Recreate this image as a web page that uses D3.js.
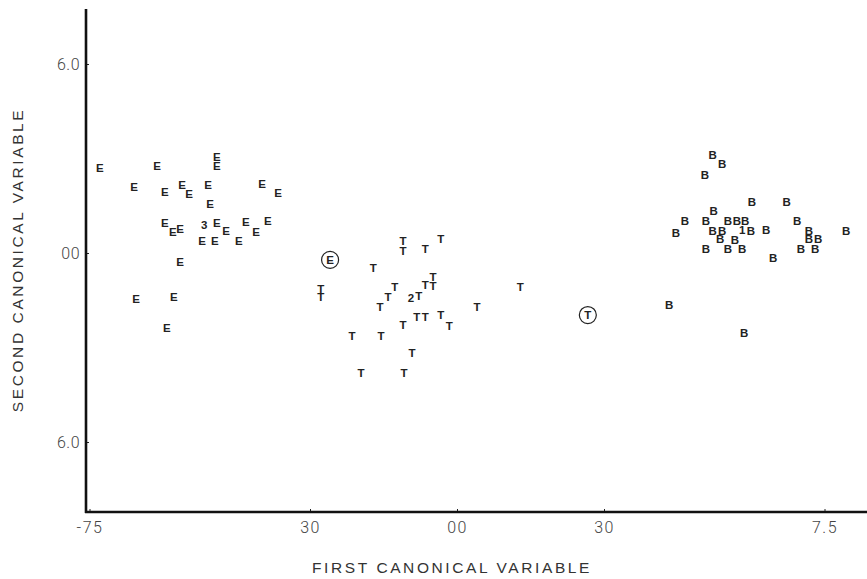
<!DOCTYPE html>
<meta charset="utf-8">
<style>
body { margin: 0; background: #fff; }
.tick text { font-family: Roboto, "Liberation Sans", sans-serif; font-weight: 300; font-size: 16px; fill: #444; letter-spacing: 1.5px; }
.mark { font-family: "Liberation Sans", Arial, sans-serif; font-size: 11.5px; font-weight: bold; fill: #222; }
.title { font-family: "Liberation Sans", Arial, sans-serif; font-size: 15.5px; fill: #333; letter-spacing: 2.6px; }
</style>
<svg></svg>
<script src="https://cdn.jsdelivr.net/npm/d3@7"></script>
<script>

var width = 867,
    height = 579

// group E
var eX = [-7.29,-6.12,-4.90,-4.90,-6.59,-5.96,-5.61,-5.47,-5.08,-3.98,-3.65,-5.04,-5.96,-5.80,-5.65,-4.90,-4.71,-4.31,-4.10,-3.86,-5.20,-4.94,-4.45,-5.65,-6.55,-5.78,-5.92]
var eY = [2.70,2.76,3.05,2.76,2.10,1.94,2.16,1.87,2.16,2.19,1.90,1.56,0.95,0.67,0.76,0.95,0.70,0.98,0.67,1.02,0.38,0.38,0.38,-0.29,-1.46,-1.40,-2.38]

// group T
var tX = [-2.78,-2.78,-1.10,-1.10,-0.65,-0.33,-1.71,-0.49,-0.49,-0.65,-1.27,-1.41,-0.78,-1.57,1.29,0.41,-0.82,-0.65,-0.33,-0.16,-1.10,-2.14,-1.55,-0.92,-1.96,-1.08]
var tY = [-1.14,-1.40,0.38,0.06,0.13,0.44,-0.48,-0.76,-1.05,-1.02,-1.08,-1.40,-1.37,-1.71,-1.08,-1.71,-2.03,-2.03,-1.97,-2.32,-2.29,-2.63,-2.63,-3.17,-3.81,-3.81]

// group B
var bX = [5.22,5.41,5.06,6.02,6.73,5.24,4.65,5.08,5.53,5.71,5.88,6.94,4.47,5.22,5.41,6.00,6.31,7.18,7.94,5.37,5.67,7.18,7.37,5.08,5.53,5.82,7.02,7.31,6.45,4.33,5.86]
var bY = [3.11,2.83,2.48,1.62,1.62,1.33,1.02,1.02,1.02,1.02,1.02,1.02,0.63,0.70,0.70,0.70,0.73,0.70,0.70,0.44,0.41,0.44,0.44,0.13,0.13,0.13,0.13,0.13,-0.16,-1.65,-2.54]

// group centroids (numbers) and circled points
var numLabel = ['3','2','1']
var numX = [-5.16,-0.94,5.82]
var numY = [0.89,-1.43,0.73]

var circLabel = ['E','T']
var circX = [-2.59,2.67]
var circY = [-0.22,-1.97]

var xTicks = [-7.5,-3.0,0,3.0,7.5]
var xTickLabels = ['-75','30','00','30','7.5']
var yTicks = [6.0,0,-6.0]
var yTickLabels = ['6.0','00','6.0']

var svg = d3.select('svg')
            .attr('width', width)
            .attr('height', height)

var x = d3.scaleLinear().domain([-7.5, 7.5]).range([89.5, 824.5])
var y = d3.scaleLinear().domain([6, -6]).range([64, 442])

// axes
var xAxis = d3.axisBottom(x).tickValues(xTicks)
                .tickFormat((d,i) => xTickLabels[i])
                .tickSize(-3).tickPadding(10)
var gX = svg.append('g')
            .attr('transform', 'translate(0,512)')
            .call(xAxis)
gX.select('.domain').remove()
gX.selectAll('.tick line').attr('stroke', '#222').attr('stroke-width', 1)

var yAxis = d3.axisLeft(y).tickValues(yTicks)
                .tickFormat((d,i) => yTickLabels[i])
                .tickSize(-3).tickPadding(6)
var gY = svg.append('g')
            .attr('transform', 'translate(86,0)')
            .call(yAxis)
gY.select('.domain').remove()
gY.selectAll('.tick line').attr('stroke', '#222')
gY.selectAll('.tick text').style('letter-spacing', '0.5px')

svg.append('line')
    .attr('x1', 86).attr('x2', 86).attr('y1', 9).attr('y2', 513)
    .attr('stroke', '#111').attr('stroke-width', 2.6)
svg.append('line')
    .attr('x1', 85).attr('x2', width).attr('y1', 512).attr('y2', 512)
    .attr('stroke', '#111').attr('stroke-width', 2.4)

// letter markers
function drawGroup(xs, ys, letter) {
    svg.append('g').selectAll('text')
        .data(xs.map((d,i) => ({x: d, y: ys[i]})))
        .enter()
        .append('text')
        .attr('class', 'mark')
        .attr('x', (d) => x(d.x))
        .attr('y', (d) => y(d.y))
        .attr('text-anchor', 'middle')
        .attr('dy', '0.36em')
        .text(letter)
}
drawGroup(eX, eY, 'E')
drawGroup(tX, tY, 'T')
drawGroup(bX, bY, 'B')

svg.append('g').selectAll('text')
    .data(numLabel)
    .enter()
    .append('text')
    .attr('class', 'mark')
    .attr('x', (d,i) => x(numX[i]))
    .attr('y', (d,i) => y(numY[i]))
    .attr('text-anchor', 'middle')
    .attr('dy', '0.36em')
    .text((d) => d)

var circ = svg.append('g').selectAll('g')
    .data(circLabel)
    .enter()
    .append('g')
    .attr('transform', (d,i) => 'translate(' + x(circX[i]) + ',' + y(circY[i]) + ')')
circ.append('circle')
    .attr('r', 8.5)
    .attr('fill', 'none')
    .attr('stroke', '#222')
    .attr('stroke-width', 1.2)
circ.append('text')
    .attr('class', 'mark')
    .attr('text-anchor', 'middle')
    .attr('dy', '0.36em')
    .text((d) => d)

// titles
svg.append('text')
    .attr('class', 'title')
    .attr('x', 452)
    .attr('y', 573)
    .attr('text-anchor', 'middle')
    .text('FIRST CANONICAL VARIABLE')

svg.append('text')
    .attr('class', 'title')
    .attr('transform', 'translate(23,260) rotate(-90)')
    .attr('text-anchor', 'middle')
    .text('SECOND CANONICAL VARIABLE')
</script>
